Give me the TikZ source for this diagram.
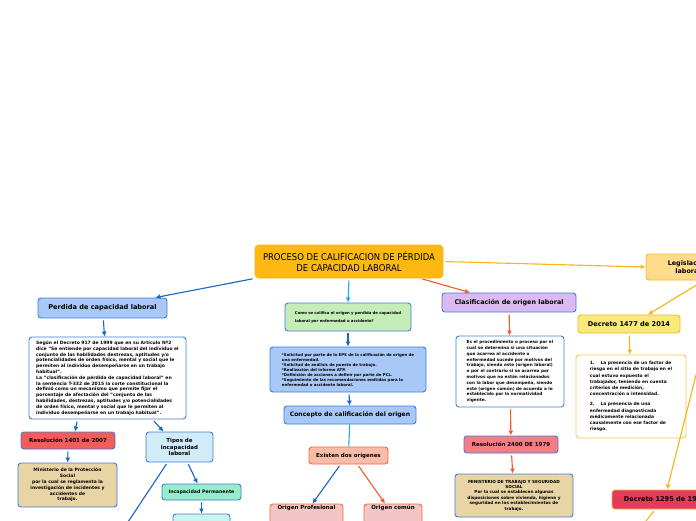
\documentclass[tikz,border=0pt]{standalone}
\usepackage{fontspec}
\setmainfont{DejaVu Sans}
\newfontfamily\titlefont{DejaVu Sans Condensed}
\usetikzlibrary{arrows.meta,positioning}

\definecolor{mapblue}{HTML}{3C7FD9}
\definecolor{titlefill}{HTML}{FDB813}
\definecolor{bluefill}{HTML}{A8C9F8}
\definecolor{paleblue}{HTML}{D2EBF9}
\definecolor{greenfill}{HTML}{C4EDB7}
\definecolor{salmonfill}{HTML}{F8BCA8}
\definecolor{salmonline}{HTML}{F26B3A}
\definecolor{pinkfill}{HTML}{F3C5C5}
\definecolor{lavender}{HTML}{DABAF0}
\definecolor{redfill}{HTML}{F45B5B}
\definecolor{rosefill}{HTML}{F67D86}
\definecolor{tanfill}{HTML}{E9D4A6}
\definecolor{mintfill}{HTML}{97ECCB}
\definecolor{aquafill}{HTML}{C9F5EE}
\definecolor{legfill}{HTML}{FFDB8B}
\definecolor{goldline}{HTML}{F9B429}
\definecolor{yellowfill}{HTML}{F8E97B}
\definecolor{crimson}{HTML}{E63A5A}
\definecolor{arrowblue}{HTML}{1466C8}
\definecolor{arrowcyan}{HTML}{1FA9E6}
\definecolor{arrowred}{HTML}{F25A28}
\definecolor{arrowgold}{HTML}{F8B415}

\begin{document}
\begin{tikzpicture}[
    x=1pt,
    y=-1pt,
    topic/.style={
        rectangle,
        draw=mapblue,
        line width=0.9pt,
        rounded corners=3pt,
        align=center,
        inner sep=1pt,
        font=\fontsize{5.5}{6.8}\selectfont\bfseries
    },
    note/.style={
        topic,
        fill=white,
        align=left,
        font=\fontsize{4.5}{5.8}\selectfont\bfseries
    },
    line/.style={
        draw,
        line width=1.1pt,
        shorten <=2pt,
        -{Latex[length=5pt,width=5pt]}
    }
]
\clip (0,0) rectangle (696,520);
\fill[white] (0,0) rectangle (696,520);

% Nodes
\node [topic, fill=titlefill, draw=titlefill!90!orange, rounded corners=4pt,
       minimum width=188pt, minimum height=33pt,
       font=\titlefont\fontsize{9.4}{11.2}\selectfont] (title) at (349,261.5)
      {PROCESO DE CALIFICACION DE PÉRDIDA\\DE CAPACIDAD LABORAL};

% left branch
\node [topic, fill=bluefill, minimum width=129pt, minimum height=20pt,
       font=\fontsize{6.6}{7.4}\selectfont\bfseries] (perdida) at (102.5,308)
      {Perdida de capacidad laboral};
\node [note, minimum width=157pt, minimum height=82pt] (definicion) at (107.5,378)
      {Según el Decreto 917 de 1999 que en su Artículo Nº2\\
       dice "Se entiende por capacidad laboral del individuo el\\
       conjunto de las habilidades destrezas, aptitudes y/o\\
       potencialidades de orden físico, mental y social que le\\
       permiten al individuo desempeñarse en un trabajo\\
       habitual".\\
       La "clasificación  de pérdida de capacidad laboral" en\\
       la sentencia T-332 de 2015 la corte constitucional la\\
       definió como un mecanismo que permite fijar el\\
       porcentaje de afectación del "conjunto de las\\
       habilidades, destrezas, aptitudes y/o potencialidades\\
       de orden físico, mental y social que le permiten al\\
       individuo desempeñarse en un trabajo habitual".};
\node [topic, fill=redfill, minimum width=94pt, minimum height=17pt] (res1401) at (68,440.5)
      {Resolución 1401 de 2007};
\node [note, fill=tanfill, align=center, minimum width=99pt, minimum height=44pt] (minproteccion) at (67.5,485)
      {Ministerio de la Protección\\Social\\por la cual se reglamenta la\\
       investigación de incidentes y\\accidentes de\\trabajo.};
\node [topic, fill=paleblue, minimum width=67pt, minimum height=30pt] (tipos) at (179.5,447)
      {Tipos de\\incapacidad\\laboral};
\node [topic, fill=mintfill, minimum width=79pt, minimum height=16pt,
       font=\fontsize{4.7}{6}\selectfont\bfseries] (permanente) at (201.5,492)
      {Incapacidad Permanente};
\node [topic, fill=aquafill, minimum width=57pt, minimum height=32pt] (temporal) at (201.5,530) {};
\coordinate (fuera) at (116,540);

% centre branch
\node [note, fill=greenfill, minimum width=126pt, minimum height=28pt,
       font=\fontsize{3.8}{8}\selectfont\bfseries] (pregunta) at (348,317)
      {Como se califica el origen y perdida de capacidad\\
       laboral por enfermedad o accidente?};
\node [note, fill=bluefill, minimum width=156pt, minimum height=45pt,
       font=\fontsize{3.9}{5}\selectfont\bfseries] (pasos) at (348,369.5)
      {*Solicitud por parte de la EPS de la calificación de origen de\\
       una enfermedad.\\
       *Solicitud de análisis de puesto de trabajo.\\
       *Realización del informe ATP.\\
       *Definición de acciones a definir por parte de PCL.\\
       *Seguimiento de las recomendaciones emitidas para la\\
       enfermedad o accidente laboral.};
\node [topic, fill=bluefill, minimum width=132pt, minimum height=18pt,
       font=\fontsize{6.1}{7}\selectfont\bfseries] (concepto) at (350,415)
      {Concepto de calificación del origen};
\node [topic, fill=salmonfill, draw=salmonline, minimum width=79pt, minimum height=17pt] (existen) at (348.5,455.5)
      {Existen dos orígenes};
\node [topic, fill=pinkfill, draw=salmonline, minimum width=73pt, minimum height=20pt] (profesional) at (306.5,514)
      {Origen Profesional\\[6pt]};
\node [topic, fill=pinkfill, draw=salmonline, minimum width=58pt, minimum height=20pt] (comun) at (393,514)
      {Origen común\\[6pt]};

% right branch
\node [topic, fill=lavender, minimum width=134pt, minimum height=19pt,
       font=\fontsize{6.4}{7.2}\selectfont\bfseries] (clasificacion) at (509,302.5)
      {Clasificación de origen laboral};
\node [note, minimum width=108pt, minimum height=71pt, font=\fontsize{4.2}{5.8}\selectfont\bfseries] (procedimiento) at (510,371.5)
      {Es el procedimiento o proceso por el\\
       cual se determina si una situación\\
       que acarrea al accidente o\\
       enfermedad sucede por motivos del\\
       trabajo, siendo este (origen laboral)\\
       o por el contrario si se acarrea por\\
       motivos que no están relacionados\\
       con la labor que desempeña, siendo\\
       este (origen común) de acuerdo a lo\\
       establecido por la normatividad\\
       vigente.};
\node [topic, fill=rosefill, minimum width=94pt, minimum height=17pt] (res2400) at (511,444.5)
      {Resolución 2400 DE 1979};
\node [note, fill=tanfill, align=center, minimum width=118pt, minimum height=43pt,
       font=\fontsize{4.2}{5.4}\selectfont\bfseries] (mintrabajo) at (514,495.5)
      {MINISTERIO DE TRABAJO Y SEGURIDAD\\SOCIAL\\
       Por la cual se establecen algunas\\
       disposiciones sobre vivienda, higiene y\\
       seguridad en los establecimientos de\\
       trabajo.};

% far right branch
\node [topic, fill=legfill, draw=goldline, minimum width=84pt, minimum height=26pt,
       font=\fontsize{6.4}{7.6}\selectfont\bfseries] (legislacion) at (688,267)
      {Legislacion\\laboral};
\node [topic, fill=yellowfill, draw=goldline, minimum width=102pt, minimum height=18pt,
       font=\fontsize{6.6}{7.2}\selectfont\bfseries] (dec1477) at (629,324)
      {Decreto 1477 de 2014};
\node [note, draw=goldline!80, minimum width=110pt, minimum height=83pt,
       font=\fontsize{4.4}{6.2}\selectfont\bfseries] (factores) at (631,396.5)
      {1.\quad\ La presencia de un factor de\\
       riesgo en el sitio de trabajo en el\\
       cual estuvo expuesto el\\
       trabajador, teniendo en cuenta\\
       criterios de medición,\\
       concentración o intensidad.\\[4pt]
       2.\quad\ La presencia de una\\
       enfermedad diagnosticada\\
       médicamente relacionada\\
       causalmente con ese factor de\\
       riesgo.};
\node [topic, fill=crimson, draw=goldline, minimum width=106pt, minimum height=19pt,
       font=\fontsize{6.6}{7.2}\selectfont\bfseries] (dec1295) at (665,499.5)
      {Decreto 1295 de 1994};
\coordinate (abajo) at (639,530);

% Edges
\path [line, arrowblue] (title.south west) -- ([xshift=-12pt]perdida.north east);
\path [line, arrowcyan] (title.south) -- (pregunta.north);
\path [line, arrowred] ([xshift=-23pt]title.south east) -- ([xshift=-39pt]clasificacion.north);
\path [line, arrowgold] (title.east) -- (legislacion.west);

\path [line, arrowblue] (perdida) -- (definicion);
\path [line, arrowblue] ([xshift=-30pt]definicion.south) -- ([xshift=7pt]res1401.north);
\path [line, arrowblue] ([xshift=45pt]definicion.south) -- ([xshift=-16pt]tipos.north);
\path [line, arrowblue] (res1401) -- (minproteccion);
\path [line, arrowblue] ([xshift=8pt]tipos.south) -- ([xshift=-4pt]permanente.north);
\path [line, arrowblue] (permanente) -- (temporal);
\path [line, arrowblue] ([xshift=-12pt]tipos.south) -- (fuera);

\path [line, arrowblue] (pregunta) -- (pasos);
\path [line, arrowblue] (pasos) -- (concepto);
\draw [arrowcyan, line width=1.1pt] (concepto) -- (existen);
\path [line, arrowblue] ([xshift=-8pt]existen.south) -- ([xshift=6pt]profesional.north);
\path [line, arrowred] ([xshift=9pt]existen.south) -- ([xshift=-8pt]comun.north);

\path [line, arrowred] (clasificacion) -- (procedimiento);
\path [line, arrowred] (procedimiento) -- (res2400);
\path [line, arrowred] (res2400) -- (mintrabajo);

\path [line, arrowgold] ([xshift=16pt]legislacion.south) -- ([xshift=19pt]dec1477.north);
\path [line, arrowgold] ([xshift=32pt]legislacion.south) -- ([xshift=2pt]dec1295.north);
\path [line, arrowgold] (dec1477) -- (factores);
\path [line, arrowgold] ([xshift=-10pt]dec1295.south) -- (abajo);

\end{tikzpicture}
\end{document}
